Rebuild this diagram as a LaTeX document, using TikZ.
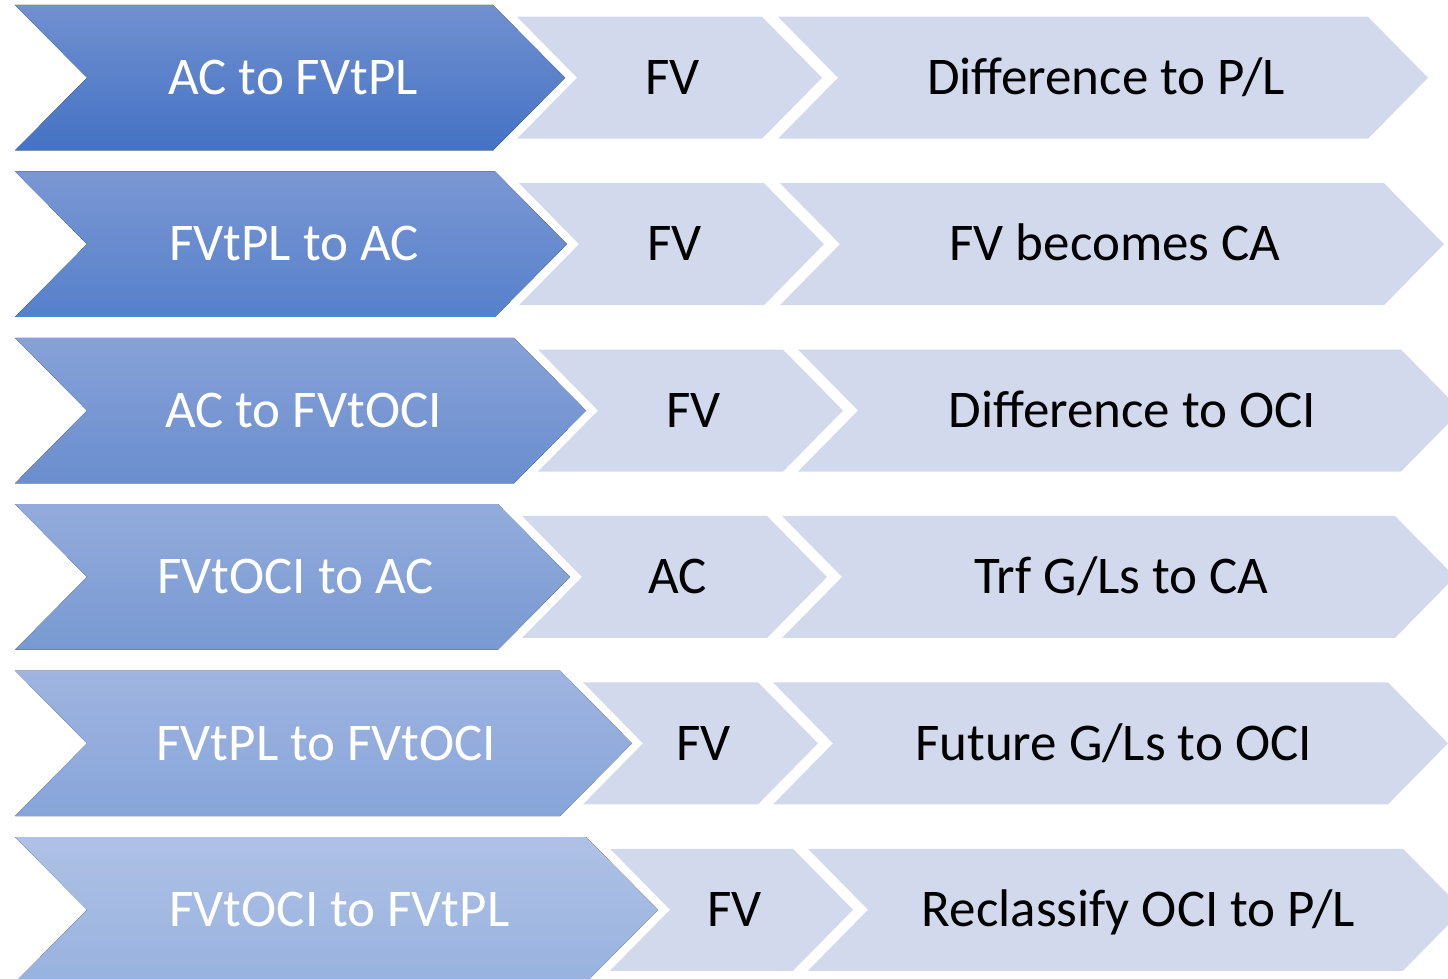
\documentclass[tikz,border=0pt]{standalone}
\usepackage{fontspec}
\setmainfont{Carlito}
\definecolor{lav}{HTML}{D2D9EC}
\definecolor{bAt}{HTML}{7190D0}\definecolor{bAb}{HTML}{4472C4}
\definecolor{bBt}{HTML}{7B97D3}\definecolor{bBb}{HTML}{5580CB}
\definecolor{bCt}{HTML}{87A1D8}\definecolor{bCb}{HTML}{6A8ECE}
\definecolor{bDt}{HTML}{93ABDC}\definecolor{bDb}{HTML}{7899D2}
\definecolor{bEt}{HTML}{9FB4E0}\definecolor{bEb}{HTML}{87A5DA}
\definecolor{bFt}{HTML}{AFC1E5}\definecolor{bFb}{HTML}{97B2DF}
\tikzset{
  labeltxt/.style={font=\fontsize{53}{64}\selectfont, anchor=base, inner sep=0pt},
  bluetxt/.style={labeltxt, text=white},
  darktxt/.style={labeltxt, text=black},
}
% big blue chevron: tip x, centre y, top colour, bottom colour
\newcommand\bigchev[4]{%
  \fill[top color=#3, bottom color=#4] (15,#2-72.75) -- (#1-72,#2-72.75) -- (#1,#2)
    -- (#1-72,#2+72.75) -- (15,#2+72.75) -- (87,#2) -- cycle;}
% light chevron: left x, tip x, centre y
\newcommand\litchev[3]{%
  \fill[lav] (#1,#3-61) -- (#2-60,#3-61) -- (#2,#3) -- (#2-60,#3+61)
    -- (#1,#3+61) -- (#1+60,#3) -- cycle;}
\begin{document}
\begin{tikzpicture}[x=1pt,y=-1pt]
\useasboundingbox (0,0) rectangle (1448,979);
\clip (0,0) rectangle (1448,979);
% row 1
\litchev{517}{822}{77.75}\litchev{778}{1428}{77.75}\bigchev{565}{77.75}{bAt}{bAb}
% row 2
\litchev{519}{824}{244.15}\litchev{780}{1444}{244.15}\bigchev{567}{244.15}{bBt}{bBb}
% row 3
\litchev{538}{843}{410.55}\litchev{798}{1461}{410.55}\bigchev{586}{410.55}{bCt}{bCb}
% row 4
\litchev{522}{827}{576.95}\litchev{782}{1455}{576.95}\bigchev{570}{576.95}{bDt}{bDb}
% row 5
\litchev{583}{818}{743.35}\litchev{773}{1448}{743.35}\bigchev{632}{743.35}{bEt}{bEb}
% row 6
\litchev{610}{853}{909.75}\litchev{808}{1463}{909.75}\bigchev{658}{909.75}{bFt}{bFb}

\node[bluetxt] (b1) at (293,94.5) {AC to FVtPL};
\node[darktxt] (f1) at (672.5,94.5) {FV};
\node[darktxt] (l1) at (1106,94.5) {Difference to P/L};

\node[bluetxt] (b2) at (294,260.9) {FVtPL to AC};
\node[darktxt] (f2) at (674.5,260.9) {FV};
\node[darktxt] (l2) at (1115,260.9) {FV becomes CA};

\node[bluetxt] (b3) at (303.5,427.3) {AC to FVtOCI};
\node[darktxt] (f3) at (693.5,427.3) {FV};
\node[darktxt] (l3) at (1132.5,427.3) {Difference to OCI};

\node[bluetxt] (b4) at (295.5,593.7) {FVtOCI to AC};
\node[darktxt] (f4) at (677.5,593.7) {AC};
\node[darktxt] (l4) at (1121.5,593.7) {Trf G/Ls to CA};

\node[bluetxt] (b5) at (326.5,760.1) {FVtPL to FVtOCI};
\node[darktxt] (f5) at (703.5,760.1) {FV};
\node[darktxt] (l5) at (1113.5,760.1) {Future G/Ls to OCI};

\node[bluetxt] (b6) at (339.5,926.5) {FVtOCI to FVtPL};
\node[darktxt] (f6) at (734.5,926.5) {FV};
\node[darktxt] (l6) at (1138.5,926.5) {Reclassify OCI to P/L};
\end{tikzpicture}
\end{document}
